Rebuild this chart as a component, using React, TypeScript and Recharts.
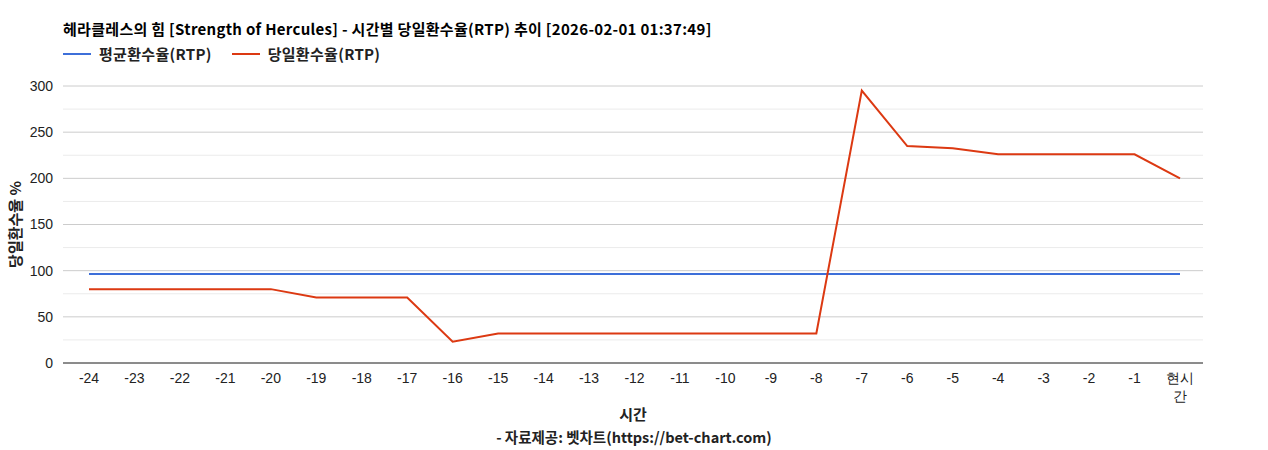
import { CartesianGrid, Line, LineChart, XAxis, YAxis } from "recharts";

const hours = [
  "-24", "-23", "-22", "-21", "-20", "-19", "-18", "-17", "-16", "-15", "-14", "-13",
  "-12", "-11", "-10", "-9", "-8", "-7", "-6", "-5", "-4", "-3", "-2", "-1", "현시간",
];
const avgRtp = [
  96.5, 96.5, 96.5, 96.5, 96.5, 96.5, 96.5, 96.5, 96.5, 96.5, 96.5, 96.5,
  96.5, 96.5, 96.5, 96.5, 96.5, 96.5, 96.5, 96.5, 96.5, 96.5, 96.5, 96.5, 96.5,
];
const dailyRtp = [
  80, 80, 80, 80, 80, 71, 71, 71, 23, 32, 32, 32,
  32, 32, 32, 32, 32, 295, 235, 232.5, 226, 226, 226, 226, 200,
];
const yTicks = [0, 50, 100, 150, 200, 250, 300];
const minorLines = [25, 75, 125, 175, 225, 275];

const data = hours.map((h, i) => ({ hour: h, avg: avgRtp[i], daily: dailyRtp[i] }));

const BLUE = "#3d6fd9";
const RED = "#dc3912";
const KR = "'Noto Sans CJK KR', 'Noto Sans', sans-serif";
const ARIAL = "'Liberation Sans', Arial, sans-serif";

function HourTick({ x, y, payload }: any) {
  const v: string = payload.value;
  const lines = v === "현시간" ? ["현시", "간"] : [v];
  return (
    <text x={x} y={y} textAnchor="middle" fontFamily={ARIAL} fontSize={14} fill="#222">
      {lines.map((t, i) => (
        <tspan key={i} x={x} dy={18}>
          {t}
        </tspan>
      ))}
    </text>
  );
}

export default function App() {
  return (
    <div style={{ position: "absolute", left: 0, top: 0, width: 1268, height: 450, background: "#fff" }}>
      <div
        style={{
          position: "absolute", left: 63, top: 19, fontFamily: KR, fontWeight: 700,
          fontSize: 15, letterSpacing: 0.3, color: "#000", whiteSpace: "nowrap", lineHeight: "20px",
        }}
      >
        헤라클레스의 힘 [Strength of Hercules] - 시간별 당일환수율(RTP) 추이 [2026-02-01 01:37:49]
      </div>
      <div
        style={{
          position: "absolute", left: 63, top: 44, display: "flex", alignItems: "center",
          fontFamily: KR, fontWeight: 700, fontSize: 15, letterSpacing: 0.3, color: "#222",
          whiteSpace: "nowrap", lineHeight: "20px",
        }}
      >
        <span style={{ display: "inline-block", width: 28, height: 2, background: BLUE, marginRight: 8 }} />
        <span style={{ marginRight: 20 }}>평균환수율(RTP)</span>
        <span style={{ display: "inline-block", width: 28, height: 2, background: RED, marginRight: 8 }} />
        <span>당일환수율(RTP)</span>
      </div>
      <LineChart
        width={1268}
        height={450}
        data={data}
        margin={{ top: 86, right: 65, bottom: 0, left: 0 }}
      >
        <CartesianGrid horizontalValues={minorLines} vertical={false} stroke="#ebebeb" />
        <CartesianGrid horizontalValues={yTicks} vertical={false} stroke="#cccccc" />
        <XAxis
          dataKey="hour"
          height={87}
          interval={0}
          padding={{ left: 26, right: 23 }}
          tick={<HourTick />}
          tickLine={false}
          axisLine={{ stroke: "#333", strokeWidth: 1 }}
          tickSize={0}
          label={{
            value: "시간", position: "insideTop", offset: 46,
            style: { fontFamily: KR, fontWeight: 700, fontSize: 15, fill: "#222" },
          }}
        />
        <YAxis
          width={63}
          domain={[0, 300]}
          ticks={yTicks}
          interval={0}
          tickLine={false}
          axisLine={false}
          tickSize={0}
          tickMargin={10}
          tick={{ fontFamily: ARIAL, fontSize: 14, fill: "#222" }}
          label={{
            value: "당일환수율 %", angle: -90, position: "insideLeft", offset: 16,
            style: { fontFamily: KR, fontWeight: 700, fontSize: 15, fill: "#222", textAnchor: "middle" },
          }}
        />
        <Line
          type="linear"
          dataKey="avg"
          stroke={BLUE}
          strokeWidth={2}
          dot={false}
          isAnimationActive={false}
        />
        <Line
          type="linear"
          dataKey="daily"
          stroke={RED}
          strokeWidth={2}
          dot={false}
          isAnimationActive={false}
        />
      </LineChart>
      <div
        style={{
          position: "absolute", left: 0, width: 1268, top: 427, textAlign: "center",
          fontFamily: KR, fontWeight: 700, fontSize: 14.5, color: "#222", lineHeight: "20px",
        }}
      >
        - 자료제공: 벳차트(https://bet-chart.com)
      </div>
    </div>
  );
}
